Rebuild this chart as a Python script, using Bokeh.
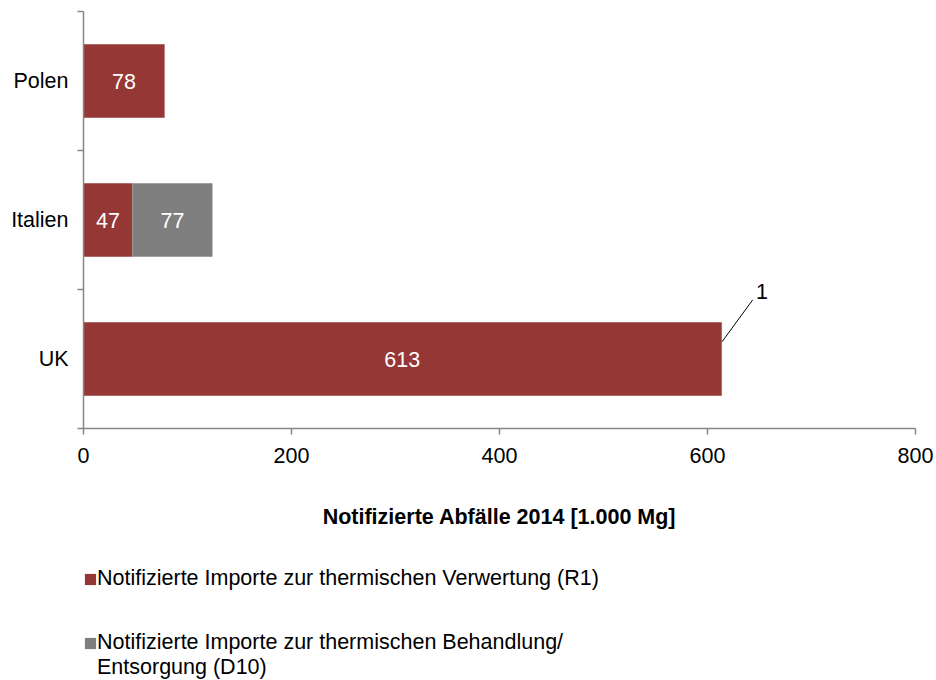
from bokeh.plotting import figure
from bokeh.layouts import column
from bokeh.models import (FixedTicker, Range1d, Legend, LegendItem, ColumnDataSource,
                          LabelSet, Label, Segment)
from bokeh.core.properties import value
from bokeh.embed import file_html
from bokeh.resources import INLINE

# ---- data ----
countries = ["UK", "Italien", "Polen"]
r1_values = [613, 47, 78]
d10_values = [1, 77, 0]
x_ticks = [0, 200, 400, 600, 800]
r1_name = "Notifizierte Importe zur thermischen Verwertung (R1)"
d10_name_lines = ["Notifizierte Importe zur thermischen Behandlung/", "Entsorgung (D10)"]
x_title = "Notifizierte Abfälle 2014 [1.000 Mg]"

R1_COLOR = "#953735"
D10_COLOR = "#7f7f7f"
AXIS_COLOR = "#868686"
FONT = "Liberation Sans"
FS = "21.5px"

y_pos = [i + 0.5 for i in range(len(countries))]
d10_left = list(r1_values)
d10_right = [a + b for a, b in zip(r1_values, d10_values)]

p = figure(width=936, height=540, output_backend="svg", toolbar_location=None,
           x_range=Range1d(0, 800), y_range=Range1d(0, len(countries)),
           min_border_left=83, min_border_right=21, min_border_top=11, min_border_bottom=112)
p.outline_line_color = None
p.background_fill_color = "white"
p.border_fill_color = "white"
p.grid.visible = False

src = ColumnDataSource(dict(y=y_pos, r1=r1_values, l0=[0] * len(countries),
                            d10l=d10_left, d10r=d10_right))
r_r1 = p.hbar(y="y", left="l0", right="r1", height=0.527, source=src,
              fill_color=R1_COLOR, line_color=None)
r_d10 = p.hbar(y="y", left="d10l", right="d10r", height=0.527, source=src,
               fill_color=D10_COLOR, line_color=None)

# inside data labels
lab_x, lab_y, lab_t = [], [], []
for i in range(len(countries)):
    if r1_values[i] >= 10:
        lab_x.append(r1_values[i] / 2); lab_y.append(y_pos[i]); lab_t.append(str(r1_values[i]))
    if d10_values[i] >= 10:
        lab_x.append(r1_values[i] + d10_values[i] / 2); lab_y.append(y_pos[i]); lab_t.append(str(d10_values[i]))
lsrc = ColumnDataSource(dict(x=lab_x, y=lab_y, t=lab_t))
p.add_layout(LabelSet(x="x", y="y", text="t", source=lsrc, text_color="white",
                      text_font=value(FONT), text_font_size=FS,
                      text_align="center", text_baseline="middle"))

# outside label for small D10 value (UK) with leader line
for i in range(len(countries)):
    if 0 < d10_values[i] < 10:
        end = r1_values[i] + d10_values[i]
        seg = ColumnDataSource(dict(x0=[end], y0=[y_pos[i] + 0.124],
                                    x1=[end + 29.5], y1=[y_pos[i] + 0.426]))
        p.add_glyph(seg, Segment(x0="x0", y0="y0", x1="x1", y1="y1",
                                 line_color="black", line_width=1))
        p.add_layout(Label(x=end + 38.5, y=y_pos[i] + 0.483, text=str(d10_values[i]),
                           text_font=FONT, text_font_size=FS, text_color="black",
                           text_align="center", text_baseline="middle"))

# y axis
ya = p.yaxis[0]
ya.ticker = FixedTicker(ticks=y_pos, minor_ticks=list(range(len(countries) + 1)))
ya.major_label_overrides = {y: c for y, c in zip(y_pos, countries)}
ya.major_tick_out = 0
ya.major_tick_in = 0
ya.minor_tick_out = 6
ya.minor_tick_in = 0
ya.minor_tick_line_color = AXIS_COLOR
ya.minor_tick_line_width = 1.5
ya.axis_line_color = AXIS_COLOR
ya.axis_line_width = 1.5
ya.major_label_standoff = 9
ya.major_label_text_font = FONT
ya.major_label_text_font_size = FS
ya.major_label_text_color = "black"

# x axis
xa = p.xaxis[0]
xa.ticker = FixedTicker(ticks=x_ticks, minor_ticks=[])
xa.major_tick_out = 6
xa.major_tick_in = 0
xa.major_tick_line_color = AXIS_COLOR
xa.major_tick_line_width = 1.5
xa.axis_line_color = AXIS_COLOR
xa.axis_line_width = 1.5
xa.major_label_standoff = 13
xa.major_label_text_font = FONT
xa.major_label_text_font_size = FS
xa.major_label_text_color = "black"
xa.axis_label = x_title
xa.axis_label_text_font = FONT
xa.axis_label_text_font_size = FS
xa.axis_label_text_font_style = "bold"
xa.axis_label_text_color = "black"
xa.axis_label_standoff = 39

# ---- legend area (separate figure below the chart) ----
q = figure(width=936, height=140, output_backend="svg", toolbar_location=None,
           x_range=Range1d(0, 800), y_range=Range1d(0, len(countries)),
           x_axis_type=None, y_axis_type=None, min_border=0)
q.outline_line_color = None
q.grid.visible = False
q.background_fill_color = "white"
q.border_fill_color = "white"
lq_r1 = q.hbar(y="y", left="l0", right="r1", height=0.527, source=src,
               fill_color=R1_COLOR, line_color=None, visible=False)
lq_d10 = q.hbar(y="y", left="d10l", right="d10r", height=0.527, source=src,
                fill_color=D10_COLOR, line_color=None, visible=False)

leg_common = dict(orientation="vertical", glyph_width=14, glyph_height=14, label_standoff=0,
                  padding=0, margin=0, spacing=0, border_line_color=None,
                  background_fill_alpha=0, inactive_fill_alpha=0,
                  label_text_font=FONT, label_text_font_size=FS, label_text_color="black")
legend1 = Legend(items=[LegendItem(label=r1_name, renderers=[lq_r1])],
                 location=(0, 89), **leg_common)
legend2 = Legend(items=[LegendItem(label=d10_name_lines[0], renderers=[lq_d10]),
                        LegendItem(label=d10_name_lines[1], renderers=[])],
                 location=(0, 0), **leg_common)
q.add_layout(legend1, "center")
q.add_layout(legend2, "center")

open("out.html", "w").write(file_html(column(p, q, spacing=0), INLINE))
